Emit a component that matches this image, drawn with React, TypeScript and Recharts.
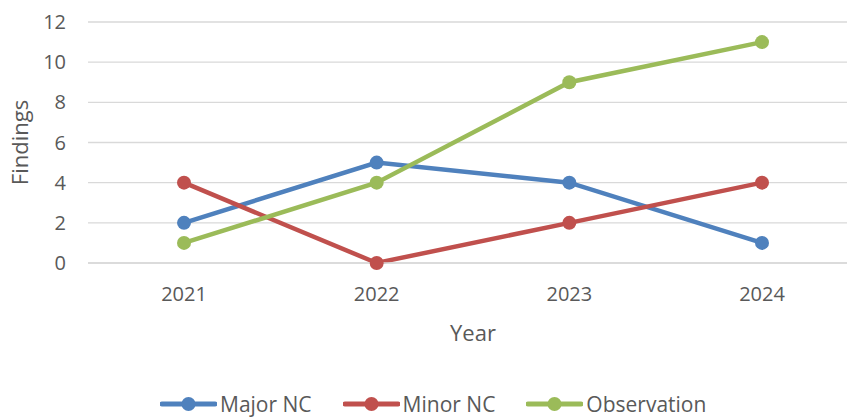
import React from 'react';
import { LineChart, Line, XAxis, YAxis, CartesianGrid, Legend } from 'recharts';

const years = ['2021', '2022', '2023', '2024'];
const majorNC = [2, 5, 4, 1];
const minorNC = [4, 0, 2, 4];
const observation = [1, 4, 9, 11];
const yTicks = [0, 2, 4, 6, 8, 10, 12];

const series = [
  { key: 'major', name: 'Major NC', color: '#4f81bd' },
  { key: 'minor', name: 'Minor NC', color: '#c0504d' },
  { key: 'obs', name: 'Observation', color: '#9bbb59' },
];

const data = years.map((y, i) => ({
  year: y,
  major: majorNC[i],
  minor: minorNC[i],
  obs: observation[i],
}));

const FONT = '"Open Sans", sans-serif';
const TEXT = '#595959';

// Excel-style legend: line with a dot in the middle
const renderLegend = () => (
  <div style={{ display: 'flex', alignItems: 'center', height: 24, lineHeight: '24px', fontFamily: FONT, fontSize: 21, color: TEXT }}>
    {series.map((s, i) => (
      <div key={s.key} style={{ display: 'flex', alignItems: 'center', marginRight: i < series.length - 1 ? 31 : 0 }}>
        <svg width={57} height={16} style={{ marginRight: 3 }}>
          <line x1={2} y1={8} x2={55} y2={8} stroke={s.color} strokeWidth={5} strokeLinecap="round" />
          <circle cx={28.5} cy={8} r={7} fill={s.color} />
        </svg>
        <span>{s.name}</span>
      </div>
    ))}
  </div>
);

const YLabel = (props: any) => {
  const vb = props.viewBox;
  const cx = vb.x + 19;
  const cy = vb.y + vb.height / 2;
  return (
    <text x={cx} y={cy} transform={`rotate(-90 ${cx} ${cy})`} textAnchor="middle" dominantBaseline="central"
      fill={TEXT} fontFamily={FONT} fontSize={22}>
      Findings
    </text>
  );
};

export default function App() {
  return (
    <div style={{ position: 'absolute', left: 0, top: 0, width: 847, height: 417, overflow: 'hidden', background: '#fff' }}>
      <LineChart width={860} height={417} data={data} margin={{ top: 22, right: 2, bottom: 40, left: 0 }}>
        <CartesianGrid vertical={false} stroke="#d9d9d9" strokeWidth={1.3} />
        <XAxis
          dataKey="year"
          padding={{ left: 96, right: 96 }}
          axisLine={{ stroke: '#d9d9d9', strokeWidth: 1.3 }}
          tickLine={false}
          tickSize={0}
          tickMargin={24}
          height={90}
          tick={{ fill: TEXT, fontFamily: FONT, fontSize: 20 }}
          label={{ value: 'Year', position: 'insideBottom', offset: 12, fill: TEXT, fontFamily: FONT, fontSize: 22 }}
        />
        <YAxis
          domain={[0, 12]}
          ticks={yTicks}
          axisLine={false}
          tickLine={false}
          tickSize={0}
          tickMargin={22}
          width={88}
          interval={0}
          tick={{ fill: TEXT, fontFamily: FONT, fontSize: 20 }}
          label={<YLabel />}
        />
        <Legend content={renderLegend} wrapperStyle={{ left: 160, top: 392, width: 600, height: 24 }} />
        {series.map((s) => (
          <Line
            key={s.key}
            type="linear"
            dataKey={s.key}
            name={s.name}
            stroke={s.color}
            strokeWidth={4.5}
            dot={{ r: 7, fill: s.color, stroke: s.color, strokeWidth: 0 }}
            activeDot={false}
            isAnimationActive={false}
          />
        ))}
      </LineChart>
    </div>
  );
}
